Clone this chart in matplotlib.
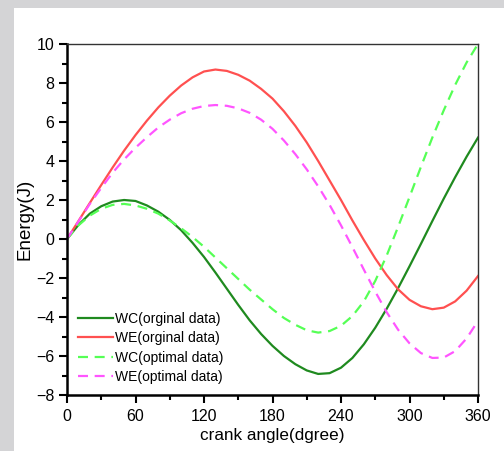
import numpy as np
import matplotlib
matplotlib.use("Agg")
import matplotlib.pyplot as plt
from matplotlib.patches import Rectangle
from matplotlib.ticker import MultipleLocator

plt.rcParams["font.family"] = ["Liberation Sans", "DejaVu Sans"]

# crank angle, every 10 degrees
angle = list(range(0, 361, 10))

wc_orig = [0, 0.72, 1.3, 1.68, 1.92, 2.0, 1.95, 1.72, 1.4, 0.98,
           0.45, -0.2, -0.92, -1.72, -2.55, -3.38, -4.17, -4.87, -5.48, -6.0,
           -6.42, -6.74, -6.92, -6.88, -6.6, -6.1, -5.4, -4.55, -3.58, -2.52,
           -1.4, -0.25, 0.92, 2.07, 3.17, 4.22, 5.2]
we_orig = [0, 0.92, 1.85, 2.77, 3.67, 4.53, 5.33, 6.07, 6.75, 7.35,
           7.87, 8.29, 8.59, 8.69, 8.62, 8.42, 8.12, 7.7, 7.2, 6.55,
           5.8, 4.95, 4.0, 3.0, 2.0, 0.95, -0.05, -1.0, -1.85, -2.58,
           -3.12, -3.45, -3.6, -3.52, -3.2, -2.65, -1.9]
wc_opt = [0, 0.7, 1.2, 1.55, 1.75, 1.8, 1.72, 1.55, 1.3, 0.95,
          0.55, 0.1, -0.4, -0.95, -1.5, -2.05, -2.6, -3.1, -3.6, -4.05,
          -4.4, -4.68, -4.8, -4.72, -4.45, -3.95, -3.2, -2.15, -0.85, 0.62,
          2.15, 3.7, 5.2, 6.6, 7.9, 9.05, 10.0]
we_opt = [0, 0.9, 1.8, 2.62, 3.4, 4.08, 4.68, 5.22, 5.72, 6.12,
          6.45, 6.68, 6.82, 6.87, 6.83, 6.7, 6.47, 6.12, 5.65, 5.05,
          4.35, 3.57, 2.7, 1.75, 0.7, -0.42, -1.57, -2.7, -3.75, -4.65,
          -5.35, -5.85, -6.1, -6.08, -5.75, -5.1, -4.2]

fig = plt.figure(figsize=(5.04, 4.51), dpi=100, facecolor="#d4d4d6")
panel = Rectangle((14 / 504, 0), 1 - 14 / 504, 1 - 8 / 451,
                  transform=fig.transFigure, facecolor="white",
                  edgecolor="none", zorder=-5)
fig.add_artist(panel)
ax = fig.add_axes([67 / 504, 56 / 451, 411 / 504, 351 / 451])
ax.set_zorder(2)
ax.patch.set_alpha(0)

ax.plot(angle, wc_orig, color="#1f8a1f", lw=1.6, label="WC(orginal data)")
ax.plot(angle, we_orig, color="#ff5050", lw=1.6, label="WE(orginal data)")
ax.plot(angle, wc_opt, color="#55ff55", lw=1.6, dashes=(4.5, 3),
        label="WC(optimal data)")
ax.plot(angle, we_opt, color="#ff55ff", lw=1.6, dashes=(4.5, 3),
        label="WE(optimal data)")

ax.set_xlim(0, 360)
ax.set_ylim(-8, 10)
ax.xaxis.set_major_locator(MultipleLocator(60))
ax.xaxis.set_minor_locator(MultipleLocator(30))
ax.yaxis.set_major_locator(MultipleLocator(2))
ax.yaxis.set_minor_locator(MultipleLocator(1))
ax.tick_params(which="both", direction="out", width=1.5, labelsize=11.5,
               top=False, right=False, pad=3)
ax.tick_params(axis="x", which="major", pad=4)
ax.tick_params(which="major", length=6)
ax.tick_params(which="minor", length=3.5)

for side in ["left", "bottom"]:
    ax.spines[side].set_linewidth(1.8)
for side in ["top", "right"]:
    ax.spines[side].set_linewidth(1.0)
    ax.spines[side].set_color("#333333")

ax.set_xlabel("crank angle(dgree)", fontsize=12.3, labelpad=3)
ax.set_ylabel("Energy(J)", fontsize=13.5, labelpad=2)

ax.legend(loc="lower left", bbox_to_anchor=(0.0, 0.0), frameon=False,
          fontsize=10, handlelength=2.5, handletextpad=0.15,
          labelspacing=0.38, borderaxespad=0.4)

fig.savefig("out.png", dpi=100, facecolor=fig.get_facecolor())
